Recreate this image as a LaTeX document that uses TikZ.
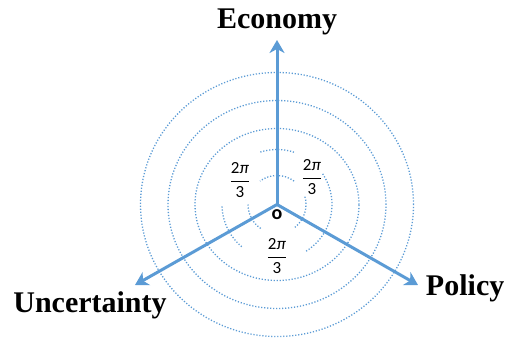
\documentclass[tikz,border=0pt]{standalone}
\usepackage{fontspec}
\setmainfont{Liberation Serif}
\newfontfamily\carl{Carlito}
\usetikzlibrary{arrows.meta}
\definecolor{axblue}{HTML}{5B9BD5}
\tikzset{
  ring/.style={axblue, line width=1.3bp, dash pattern=on 1.2bp off 1.8bp},
  axis/.style={axblue, line width=3bp, -{Stealth[length=13bp,width=15bp,inset=4bp]}},
  title/.style={inner sep=0pt, font=\fontsize{30bp}{34bp}\selectfont\bfseries},
  frac/.style={inner sep=0pt, font=\carl\fontsize{17bp}{20bp}\selectfont},
}
\newcommand{\twopithird}{$\displaystyle\frac{\hbox{2\textit{π}}}{\hbox{3}}$}
\begin{document}
\begin{tikzpicture}[x=1bp,y=1bp]
\useasboundingbox (0,0) rectangle (505,350);
\coordinate (c) at (277,145.5);
% full dotted rings
\draw[ring] (c) ellipse [x radius=136.5, y radius=132];
\draw[ring] (c) ellipse [x radius=109, y radius=104];
\draw[ring] (c) ellipse [x radius=82, y radius=76];
% broken inner rings
\draw[ring] ([shift={(54:29)}]c) arc[start angle=54, end angle=126, radius=29];
\draw[ring] ([shift={(180:29)}]c) arc[start angle=180, end angle=239, radius=29];
\draw[ring] ([shift={(-52:29)}]c) arc[start angle=-52, end angle=18, radius=29];
\draw[ring] ([shift={(72:55)}]c) arc[start angle=72, end angle=108, radius=55];
\draw[ring] ([shift={(182:55)}]c) arc[start angle=182, end angle=232, radius=55];
\draw[ring] ([shift={(-58:55)}]c) arc[start angle=-58, end angle=34, radius=55];
% axes
\coordinate (econ) at (277,310);
\coordinate (pol) at (418,65);
\coordinate (unc) at (135,65);
\draw[axis] (c) -- (econ);
\draw[axis] (c) -- (pol);
\draw[axis] (c) -- (unc);
% labels
\node[title, anchor=base] (econlabel) at (277,322) {Economy};
\node[title, anchor=base] (unclabel) at (90,38) {Uncertainty};
\node[title, anchor=base east] (pollabel) at (504.5,55) {Policy};
\node[frac] (f1) at (240,170) {\twopithird};
\node[frac] (f2) at (312,173) {\twopithird};
\node[frac] (f3) at (277,94) {\twopithird};
\node[inner sep=0pt, font=\carl\fontsize{20bp}{22bp}\selectfont\bfseries] (o) at (277,135) {o};
\end{tikzpicture}
\end{document}
